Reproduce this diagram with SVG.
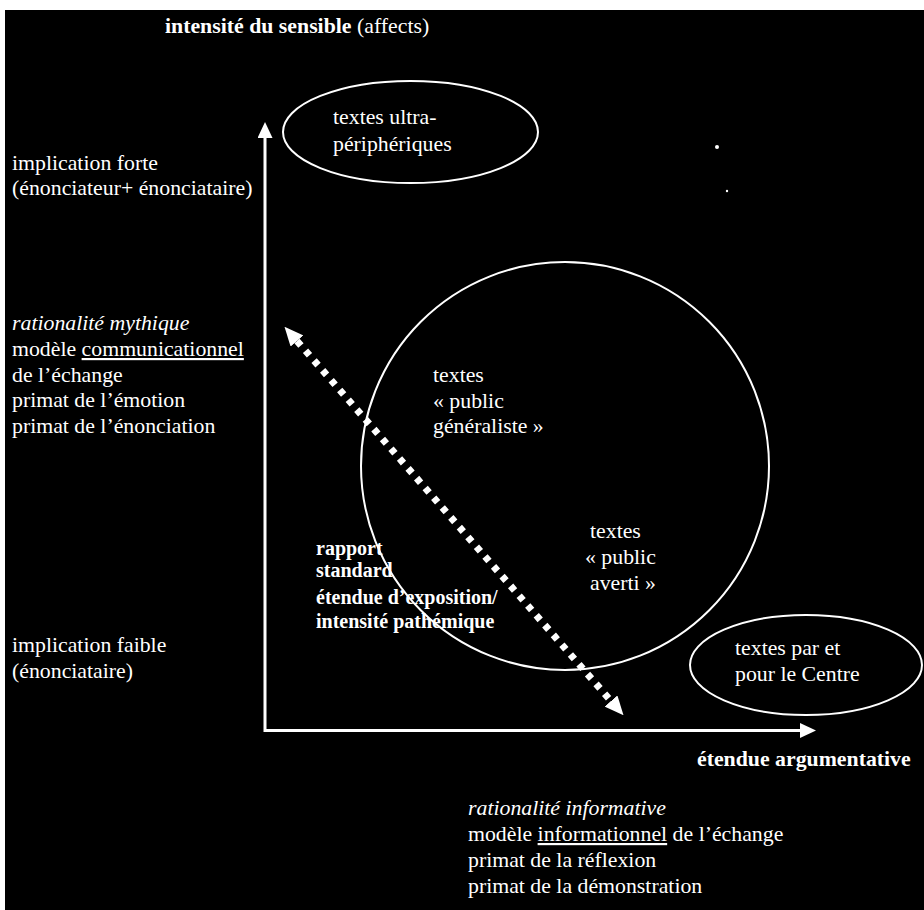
<svg xmlns="http://www.w3.org/2000/svg" width="924" height="910" viewBox="0 0 924 910">
<style>
text{font-family:"Liberation Serif","Times New Roman",serif;font-size:21.8px;fill:#fff}
.b{font-weight:bold}
.sb{font-weight:bold;font-size:20px}
.i{font-style:italic}
.ul{text-decoration:underline}
.shape{fill:none;stroke:#fff;stroke-width:2}
.axis{fill:none;stroke:#fff;stroke-width:3}
.diag{fill:none;stroke:#fff;stroke-width:7;stroke-dasharray:6 7}
</style>
<defs>
<marker id="ah" markerUnits="userSpaceOnUse" markerWidth="16" markerHeight="15" refX="0" refY="7.5" orient="auto-start-reverse" viewBox="0 0 16 15">
<path d="M0,0 L16,7.5 L0,15 z" fill="#fff"/>
</marker>
<marker id="dh" markerUnits="userSpaceOnUse" markerWidth="19" markerHeight="17" refX="0" refY="8.5" orient="auto-start-reverse" viewBox="0 0 19 17">
<path d="M0,0 L19,8.5 L0,17 z" fill="#fff"/>
</marker>
</defs>
<rect x="0" y="0" width="924" height="910" fill="#fff"/>
<rect x="5" y="10" width="919" height="900" fill="#000"/>

<g id="connectors">
<path class="axis" d="M265,138 L265,730.5 L800,730.5" marker-start="url(#ah)" marker-end="url(#ah)"/>
<path class="diag" d="M297,341 L611,701" marker-start="url(#dh)" marker-end="url(#dh)"/>
</g>

<g id="axis-y-label">
<text x="165" y="33"><tspan class="b">intensité du sensible</tspan> (affects)</text>
</g>
<g id="axis-x-label">
<text x="697" y="766" class="b">étendue argumentative</text>
</g>

<g id="left-labels">
<text x="12" y="170">implication forte</text>
<text x="12" y="195">(énonciateur+ énonciataire)</text>
<text x="12" y="330" class="i">rationalité mythique</text>
<text x="12" y="356">modèle <tspan class="ul">communicationnel</tspan></text>
<text x="12" y="381.5">de l’échange</text>
<text x="12" y="407">primat de l’émotion</text>
<text x="12" y="432.5">primat de l’énonciation</text>
<text x="12" y="652">implication faible</text>
<text x="12" y="678">(énonciataire)</text>
</g>

<g id="bottom-labels">
<text x="468" y="815" class="i">rationalité informative</text>
<text x="468" y="841">modèle <tspan class="ul">informationnel</tspan> de l’échange</text>
<text x="468" y="867">primat de la réflexion</text>
<text x="468" y="893">primat de la démonstration</text>
</g>

<g id="node-ultra">
<ellipse class="shape" cx="410.5" cy="132" rx="127.5" ry="51"/>
<text x="333" y="124">textes ultra-</text>
<text x="333" y="151">périphériques</text>
</g>

<g id="node-generaliste">
<ellipse class="shape" cx="565" cy="466" rx="204" ry="204"/>
<text x="433" y="382">textes</text>
<text x="433" y="408">« public</text>
<text x="433" y="433">généraliste »</text>
</g>

<g id="node-averti">
<text x="590" y="538">textes</text>
<text x="585" y="564">« public</text>
<text x="590" y="590">averti »</text>
</g>

<g id="node-standard">
<text x="316" y="555" class="sb">rapport</text>
<text x="316" y="577" class="sb">standard</text>
<text x="316" y="604" class="sb">étendue d’exposition/</text>
<text x="316" y="628" class="sb">intensité pathémique</text>
</g>

<g id="node-centre">
<ellipse class="shape" cx="806" cy="665" rx="116" ry="50"/>
<text x="735" y="655">textes par et</text>
<text x="735" y="681">pour le Centre</text>
</g>

<circle cx="717" cy="147" r="2" fill="#fff"/>
<circle cx="727" cy="191" r="1.2" fill="#fff"/>
</svg>
